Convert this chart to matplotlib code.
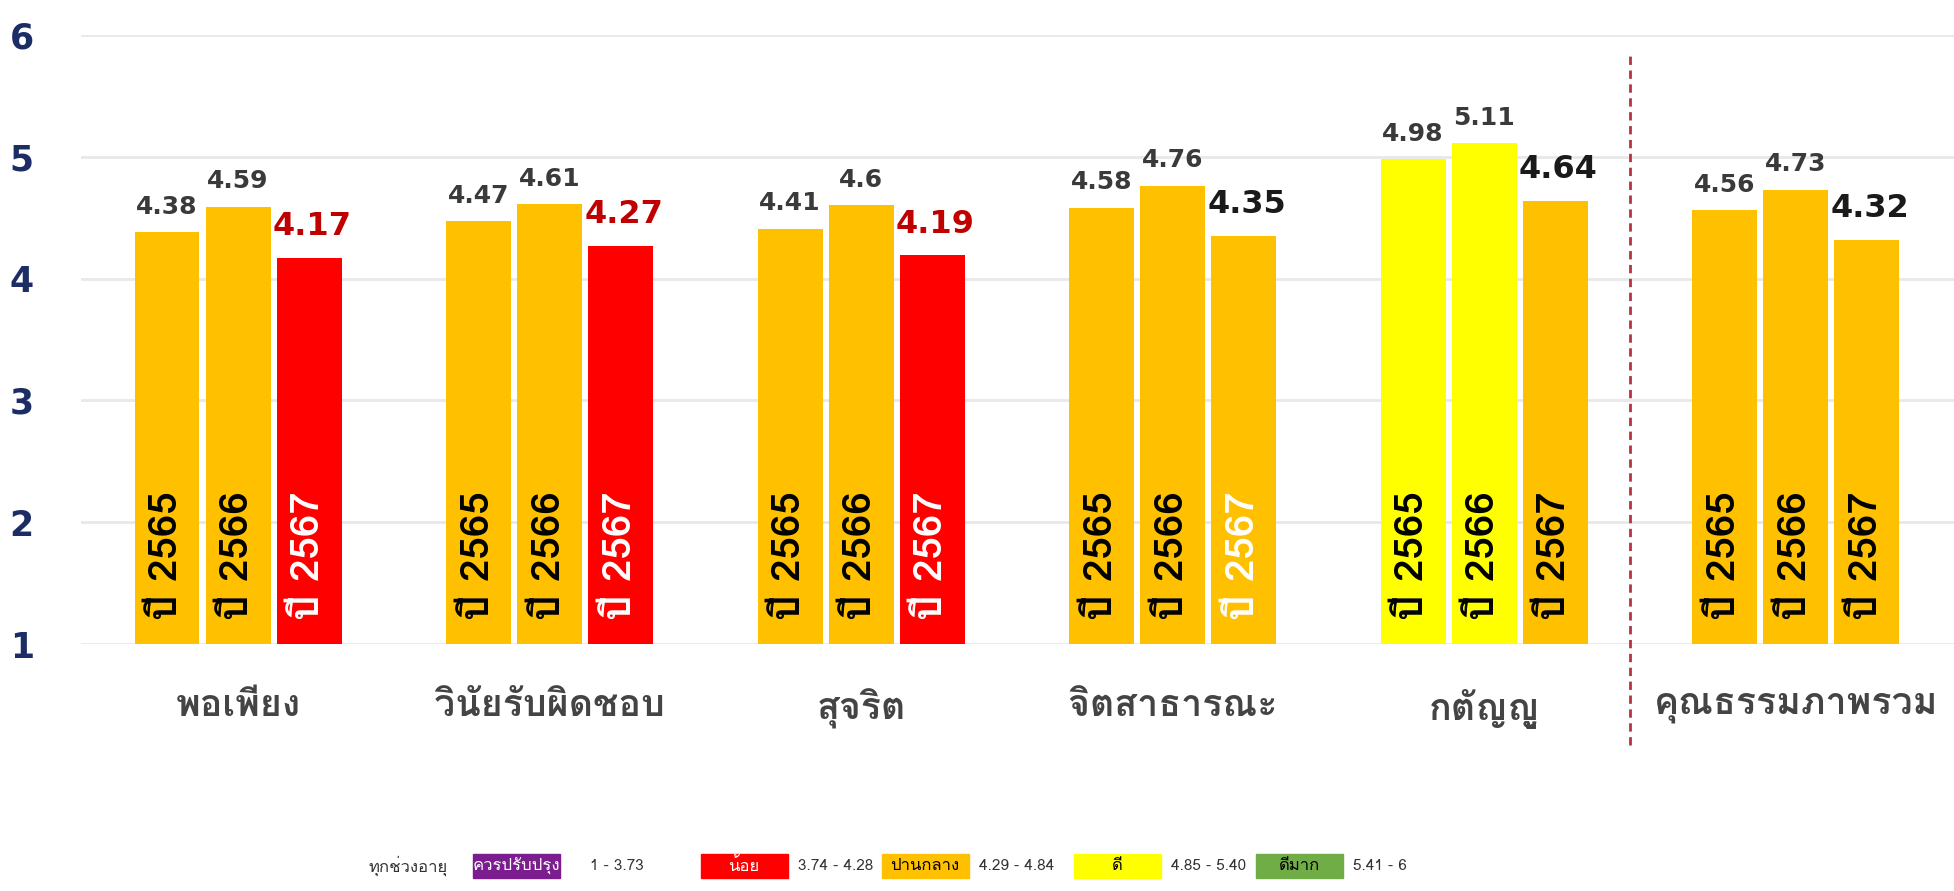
import matplotlib
matplotlib.use("Agg")
import matplotlib.pyplot as plt
from matplotlib import font_manager
from matplotlib.ft2font import FT2Font
from matplotlib.patches import Rectangle
import numpy as np

# --- ข้อมูล ---
categories = ['พอเพียง', 'วินัยรับผิดชอบ', 'สุจริต', 'จิตสาธารณะ', 'กตัญญู', 'คุณธรรมภาพรวม']
years = ['2565', '2566', '2567']
y2565 = [4.38, 4.47, 4.41, 4.58, 4.98, 4.56]
y2566 = [4.59, 4.61, 4.60, 4.76, 5.11, 4.73]
y2567 = [4.17, 4.27, 4.19, 4.35, 4.64, 4.32]
year_text_2567 = ['white', 'white', 'white', 'white', 'black', 'black']

level_names = ['ควรปรับปรุง', 'น้อย', 'ปานกลาง', 'ดี', 'ดีมาก']
level_ranges = ['1 - 3.73', '3.74 - 4.28', '4.29 - 4.84', '4.85 - 5.40', '5.41 - 6']
level_upper = [3.735, 4.285, 4.845, 5.405, 6.0]
level_colors = ['#7b1d8e', '#ff0000', '#ffc000', '#ffff00', '#70ad47']
level_text = ['white', 'white', 'black', 'black', 'black']


# หาฟอนต์ที่มีอักษรไทย
def find_thai_font():
    found = []
    for f in font_manager.fontManager.ttflist:
        try:
            if 0x0E01 in FT2Font(f.fname).get_charmap():
                found.append(f.name)
        except Exception:
            pass
    return found[0] if found else None


thai = find_thai_font()
fams = ([thai] if thai else []) + ['DejaVu Sans']
plt.rcParams['font.family'] = fams


def level_color(v):
    for up, c in zip(level_upper, level_colors):
        if v <= up:
            return c
    return level_colors[-1]


fig = plt.figure(figsize=(19.54, 8.91), dpi=100)
ax = fig.add_axes([0.0415, 0.277, 0.9585, 0.684])

x = np.arange(len(categories))
step = 0.228
width = 0.208
series = [y2565, y2566, y2567]

for k, vals in enumerate(series):
    xs = x + (k - 1) * step
    for i, v in enumerate(vals):
        col = level_color(v)
        ax.bar(xs[i], v, width=width, color=col, zorder=2)
        if k < 2:
            ax.text(xs[i], v + 0.11, f'{v:g}', ha='center', va='bottom',
                    fontsize=18, fontweight='bold', color='#3a3a3a',
                    family=['DejaVu Sans'])
            tcol = 'black'
        else:
            lc = '#c00000' if col == '#ff0000' else '#1a1a1a'
            ax.text(xs[i] + 0.01, v + 0.13, f'{v:g}', ha='center', va='bottom',
                    fontsize=23, fontweight='bold', color=lc,
                    family=['DejaVu Sans'])
            tcol = year_text_2567[i]
        ax.text(xs[i], 1.2, 'ปี ' + years[k], rotation=90, ha='center',
                va='bottom', fontsize=29, fontweight='bold', color=tcol,
                zorder=3)

# เส้นแบ่งคุณธรรมภาพรวม
ax.plot([4.468, 4.468], [0.17, 5.83], linestyle=(0, (3, 2)), color='#b5343f',
        linewidth=2, clip_on=False, zorder=3)

ax.set_xlim(-0.504, 5.508)
ax.set_ylim(1, 6)
ax.set_yticks([1, 2, 3, 4, 5, 6])
ax.set_yticklabels(['1', '2', '3', '4', '5', '6'], fontsize=25,
                   fontweight='heavy', color='#1c2d66', family=['DejaVu Sans'])
ax.set_xticks(x)
ax.set_xticklabels(categories, fontsize=27, fontweight='bold', color='#444444')
ax.tick_params(axis='y', length=0, pad=34)
ax.tick_params(axis='x', length=0, pad=32)
ax.yaxis.grid(True, color='#e8e8e8', linewidth=2, zorder=0)
ax.set_axisbelow(True)
for s in ax.spines.values():
    s.set_visible(False)

# --- คำอธิบายระดับ ---
leg = fig.add_axes([0, 0, 1, 0.06])
leg.set_xlim(0, 1954)
leg.set_ylim(0, 53.5)
leg.axis('off')
yc = 25
box_x = [473, 701, 882, 1074, 1256]
leg.text(408, yc, 'ทุกช่วงอายุ', ha='center', va='center', fontsize=12,
         color='#333333')
for j in range(len(level_names)):
    x0 = box_x[j]
    leg.add_patch(Rectangle((x0, yc - 12), 87, 24, color=level_colors[j]))
    leg.text(x0 + 43, yc, level_names[j], ha='center', va='center',
             fontsize=12, color=level_text[j])
    gap = 30 if j == 0 else 10
    leg.text(x0 + 87 + gap, yc, level_ranges[j], ha='left', va='center',
             fontsize=11, color='#333333')

fig.savefig('out.png', dpi=100)
